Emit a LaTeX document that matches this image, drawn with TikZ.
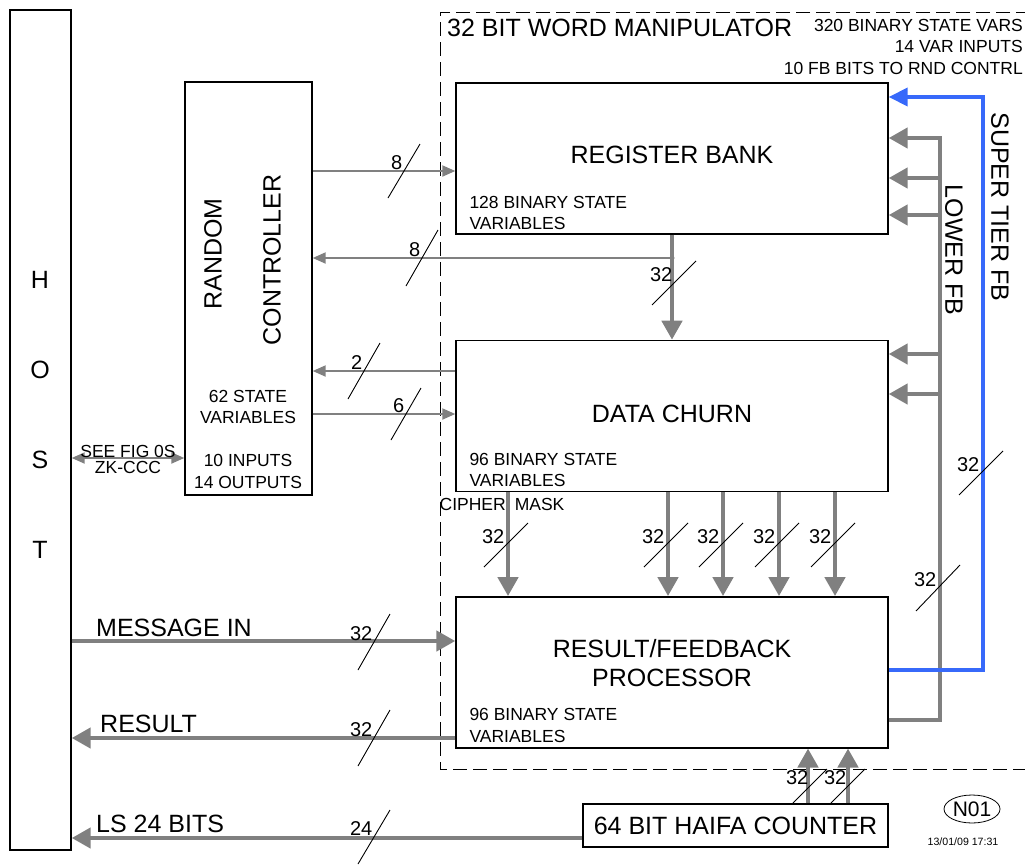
\documentclass[tikz,border=0pt]{standalone}
\usepackage{fontspec}
\setmainfont{Liberation Sans}
\usepackage{tikz}
\usetikzlibrary{arrows.meta, positioning, shapes.geometric, calc}
\definecolor{busgray}{RGB}{128,128,128}
\definecolor{fbblue}{RGB}{55,105,250}
\newcommand{\bigtxt}{\fontsize{25}{29}\selectfont}
\newcommand{\smalltxt}{\fontsize{17.5}{21.5}\selectfont}
\newcommand{\widthtxt}{\fontsize{20}{23}\selectfont}
\tikzset{
  block/.style={rectangle, draw=black, line width=1.4pt, inner sep=0pt},
  bigtext/.style={font=\bigtxt, align=center, inner sep=0pt},
  note/.style={font=\smalltxt, align=left, inner sep=0pt, anchor=west},
  thinbus/.style={draw=busgray, line width=2pt, -{Triangle[length=13pt,width=11pt]}},
  bus/.style={draw=busgray, line width=4.5pt, -{Triangle[length=19pt,width=20pt]}},
  fbbus/.style={draw=fbblue, line width=4pt, -{Triangle[length=19pt,width=18pt]}},
  slashmark/.style={draw=black, line width=0.9pt},
  wlabel/.style={font=\widthtxt, anchor=south east, inner sep=1.5pt},
  frame/.style={draw=black, line width=1pt, dash pattern=on 14pt off 6pt}
}

\begin{document}
\begin{tikzpicture}[x=1pt, y=-1pt, node distance=105pt]
  \useasboundingbox (0,0) rectangle (1025,865);

  % Host
  \node[block, minimum width=61pt, minimum height=840pt] (host) at (40.5,430) {};
  \foreach \ch/\yy in {H/280, O/370, S/460, T/550}
    \node[bigtext] (host\ch) at (40,\yy) {\ch};

  % Random controller
  \node[block, minimum width=127pt, minimum height=413pt] (rnd) at (248.5,288.5) {};
  \node[bigtext, rotate=90] (rndA) at (213,254) {RANDOM};
  \node[bigtext, rotate=90] (rndB) at (272,260) {CONTROLLER};
  \node[bigtext, font=\smalltxt] (rndstate) at (248,407) {62 STATE\\VARIABLES};
  \node[bigtext, font=\smalltxt] (rndio) at (248,471.5) {10 INPUTS\\14 OUTPUTS};

  % 32 bit word manipulator
  \draw[frame] (1030,12) -- (440,12) -- (440,769) -- (1030,769);
  \node[bigtext, anchor=west] (wmtitle) at (447,28) {32 BIT WORD MANIPULATOR};
  \node[bigtext, font=\smalltxt, align=right, anchor=east] (wmnote) at (1023,46.5)
    {320 BINARY STATE VARS\\14 VAR INPUTS\\10 FB BITS TO RND CONTRL};

  \node[block, minimum width=432pt, minimum height=151pt] (rb) at (672,158.5) {};
  \node[block, minimum width=432pt, minimum height=151pt, below=of rb] (dc) {};
  \node[block, minimum width=432pt, minimum height=151pt, below=104pt of dc] (rfp) {};
  \node[bigtext] (rbtitle) at ([shift={(0,-3.5)}]rb.center) {REGISTER BANK};
  \node[bigtext] (dctitle) at ([shift={(0,-2.5)}]dc.center) {DATA CHURN};
  \node[bigtext] (rfptitle) at ([shift={(0,-9)}]rfp.center) {RESULT/FEEDBACK\\PROCESSOR};
  \node[note] (rbnote) at ([shift={(14,-21.5)}]rb.south west) {128 BINARY STATE\\VARIABLES};
  \node[note] (dcnote) at ([shift={(14,-22)}]dc.south west) {96 BINARY STATE\\VARIABLES};
  \node[note] (rfpnote) at ([shift={(14,-23)}]rfp.south west) {96 BINARY STATE\\VARIABLES};

  % Counter and sheet mark
  \node[block, minimum width=305pt, minimum height=43pt] (ctr) at (735.5,825.5) {};
  \node[bigtext] (ctrtitle) at (ctr.center) {64 BIT HAIFA COUNTER};
  \node[ellipse, draw, line width=0.8pt, minimum width=56pt, minimum height=28pt,
    inner sep=0pt, font=\fontsize{21}{24}\selectfont] (sheet) at (972,809) {N01};
  \node[inner sep=0pt, font=\fontsize{10.6}{12}\selectfont] (stamp) at (963,842) {13/01/09 17:31};

  % rows and columns of the buses
  \coordinate (r8a) at (0,171);
  \coordinate (r8b) at (0,258);
  \coordinate (r2) at (0,371);
  \coordinate (r6) at (0,414);
  \coordinate (rsee) at (0,458);
  \coordinate (rmsg) at (0,641);
  \coordinate (rres) at (0,738);
  \coordinate (rls) at (0,838);
  \coordinate (kmask) at (508,0);
  \coordinate (k1) at (668,0);
  \coordinate (k2) at (723,0);
  \coordinate (k3) at (779,0);
  \coordinate (k4) at (835,0);
  \coordinate (kc1) at (808,0);
  \coordinate (kc2) at (848,0);

  % controller <-> word manipulator
  \draw[thinbus] (rnd.east |- r8a) -- (rb.west |- r8a);
  \coordinate (tap) at (rb.south |- r8b);
  \draw[thinbus] (tap) -- (rnd.east |- tap);
  \fill[busgray] (tap) circle (2.5pt);
  \draw[bus] (rb.south) -- (dc.north);
  \draw[thinbus] (dc.west |- r2) -- (rnd.east |- r2);
  \draw[thinbus] (rnd.east |- r6) -- (dc.west |- r6);
  \draw[thinbus, {Triangle[length=13pt,width=11pt]}-{Triangle[length=13pt,width=11pt]}]
    (host.east |- rsee) -- (rnd.west |- rsee);
  \node[font=\smalltxt, inner sep=0pt] (seefig) at (128,451) {SEE FIG 0S};
  \node[font=\smalltxt, inner sep=0pt] (zk) at (128,467) {ZK-CCC};

  % data churn -> result processor
  \foreach \k in {kmask, k1, k2, k3, k4}
    \draw[bus] (dc.south -| \k) -- (rfp.north -| \k);
  \node[font=\smalltxt, inner sep=0pt] (mask) at (502,504) {CIPHER\hspace{9pt}MASK};

  % host <-> result processor
  \draw[bus] (host.east |- rmsg) -- (rfp.west |- rmsg);
  \draw[bus] (rfp.west |- rres) -- (host.east |- rres);
  \draw[bus] (ctr.west |- rls) -- (host.east |- rls);
  \draw[bus] (ctr.north -| kc1) -- (rfp.south -| kc1);
  \draw[bus] (ctr.north -| kc2) -- (rfp.south -| kc2);
  \node[bigtext, anchor=west] (msglbl) at (96,628) {MESSAGE IN};
  \node[bigtext, anchor=west] (reslbl) at (100,724) {RESULT};
  \node[bigtext, anchor=west] (lslbl) at (96,824) {LS 24 BITS};

  % feedback
  \coordinate (lowtop) at (940,138);
  \coordinate (lowout) at (0,720);
  \coordinate (bluetop) at (983,97);
  \coordinate (blueout) at (0,670);
  \draw[bus] (rfp.east |- lowout) -| (lowtop) -- (rb.east |- lowtop);
  \foreach \r in {178, 215}
    \draw[bus] (940,\r) -- (rb.east |- 0,\r);
  \foreach \r in {354, 394}
    \draw[bus] (940,\r) -- (dc.east |- 0,\r);
  \draw[fbbus] (rfp.east |- blueout) -| (bluetop) -- (rb.east |- bluetop);
  \node[bigtext, rotate=-90] (lowlbl) at (954,250) {LOWER FB};
  \node[bigtext, rotate=-90] (suplbl) at (1000,207) {SUPER TIER FB};

  % bus widths
  \foreach \x/\y/\dx/\dy/\w/\n in {404/171/16/27/8/wa, 422/258/16/28/8/wb,
      364/371/16/28/2/wc, 406/414/15/26/6/wd, 374/642/16/28/32/we,
      374/738/16/28/32/wf, 374/837/16/27/24/wg, 674/283/22/22/32/wh,
      506/545/22/22/32/wi, 666/545/22/22/32/wj, 721/545/22/22/32/wk,
      777/545/22/22/32/wl, 833/545/22/22/32/wm, 810/786/17/17/32/wn,
      848/786/17/17/32/wo, 981/473/22/22/32/wp, 938/588/22/23/32/wq} {
    \draw[slashmark] (\x-\dx,\y+\dy) -- (\x+\dx,\y-\dy);
    \node[wlabel] (\n) at (\x,\y) {\w};
  }
\end{tikzpicture}
\end{document}
